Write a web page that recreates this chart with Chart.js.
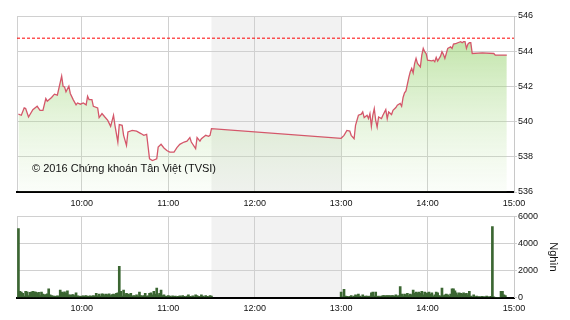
<!DOCTYPE html>
<html>
<head>
<meta charset="utf-8">
<script src="https://cdn.jsdelivr.net/npm/chart.js@4/dist/chart.umd.min.js"></script>
<style>
  body { margin: 0; background: #fff; }
  canvas { position: absolute; left: 0; }
  #priceChart { top: 0; }
  #volChart { top: 210px; }
</style>
</head>
<body>
<canvas id="priceChart" width="570" height="212"></canvas>
<canvas id="volChart" width="570" height="110"></canvas>
<script>
var priceTimes = [
  '9:16','9:18','9:20','9:21','9:23','9:26','9:29','9:31','9:33','9:35','9:36','9:39','9:41','9:43',
  '9:46','9:47','9:48','9:49','9:51','9:52','9:54','9:56','9:57','9:59','10:01','10:03','10:04','10:05',
  '10:07','10:08','10:11','10:12','10:14','10:16','10:18','10:20','10:22','10:23','10:25','10:26','10:28',
  '10:29','10:31','10:32','10:35','10:38','10:41','10:43','10:45','10:47','10:49','10:52','10:53','10:55',
  '10:57','10:59','11:01','11:04','11:06','11:08','11:11','11:13','11:15','11:16','11:19','11:20','11:22',
  '11:23','11:26','11:28','11:29','11:30',
  '13:00','13:02','13:04','13:06','13:07','13:09','13:10','13:12','13:14','13:15','13:16','13:18','13:19',
  '13:20','13:21','13:22','13:23','13:24','13:25','13:26','13:28','13:29','13:31','13:32','13:33','13:35',
  '13:36','13:38','13:39','13:41','13:42','13:43','13:44','13:45','13:47','13:48','13:49','13:50','13:51',
  '13:52','13:53','13:55','13:56','13:57','13:58','13:59','14:00','14:03','14:04','14:05','14:06','14:07',
  '14:09','14:10','14:11','14:12','14:13','14:14','14:16','14:17','14:18','14:20','14:21','14:23','14:24',
  '14:25','14:26','14:27','14:28','14:29','14:30','14:31','14:38','14:46','14:47','14:55'
];
var priceValues = [
  540.42,540.36,540.78,540.74,540.26,540.68,540.87,540.64,540.64,541.31,541.16,541.37,541.56,541.50,
  542.58,542.01,541.97,541.69,542.01,541.60,541.25,540.95,541.06,540.99,541.06,540.95,541.44,541.25,
  541.25,540.87,540.78,540.23,540.46,540.26,540.07,539.73,540.36,539.79,538.84,539.83,539.79,
  539.22,538.65,539.41,539.50,539.46,539.32,539.22,539.28,537.89,537.79,537.89,538.55,538.71,
  538.50,538.36,538.27,538.27,538.52,538.71,538.84,538.89,539.09,538.84,538.46,539.09,538.89,
  539.03,539.22,539.16,539.22,539.60,
  539.05,539.22,539.50,539.46,539.22,539.03,539.79,540.36,540.42,540.55,540.23,540.36,540.17,
  540.46,539.73,540.36,540.74,540.07,539.69,540.26,540.17,540.36,540.68,540.17,540.55,540.40,
  540.64,540.80,540.93,541.03,540.87,541.37,541.63,541.74,542.51,542.83,543.02,542.77,543.30,
  543.59,543.30,543.11,543.78,544.16,543.97,543.87,543.49,543.45,543.49,543.40,543.65,543.44,
  543.72,543.97,543.82,543.59,543.87,544.16,544.25,544.16,544.40,544.44,544.48,544.54,544.48,
  544.54,544.54,544.16,544.40,544.48,544.48,543.87,543.91,543.87,543.78,543.78
];
var refPrice = 544.74;

// khối lượng theo phút (nghìn)
var volMorningStart = '9:15';
var volMorning = [
  0,5100,450,400,300,100,450,420,150,380,400,450,420,400,300,380,150,400,250,200,220,
  280,650,200,150,100,100,80,120,100,550,400,350,420,300,500,200,180,200,220,150,
  350,120,100,80,100,120,100,150,80,100,120,80,150,100,300,120,250,100,280,250,
  150,250,200,280,150,220,250,200,300,350,2300,450,100,550,200,300,250,220,300,100,150,
  100,200,80,400,150,100,150,300,100,120,300,350,200,450,250,700,200,300,550,150,
  200,100,80,150,100,50,120,80,100,50,80,120,60,150,80,50,100,200,80,60,
  120,50,200,150,80,60,200,100,50,150,80,60,150,100
];
var volAfternoonStart = '13:00';
var volAfternoon = [
  400,50,600,100,80,50,80,150,50,100,200,150,250,100,50,200,80,100,100,80,
  100,350,400,100,400,80,100,50,100,150,150,120,150,150,120,150,150,100,200,100,
  150,800,250,100,250,200,300,150,250,200,550,300,400,350,400,300,450,200,400,300,
  350,400,250,350,100,200,400,350,150,100,700,150,200,250,200,100,250,650,650,500,
  350,200,350,300,250,350,250,300,200,450,100,50,200,50,100,50,60,50,80,50,
  50,100,50,50,80,5250,50,0,0,0,0,450,450,200,150
];

var timeTicks = [555, 600, 660, 720, 780, 840, 900];
var breakStart = '11:30', breakEnd = '13:00';

function toMin(t) {
  var p = t.split(':');
  return +p[0] * 60 + +p[1];
}
function fmt(v) {
  if (v % 60 !== 0 || v < 600) return '';
  return (v / 60) + ':00';
}

var font = { family: "'Liberation Sans', Arial, sans-serif", size: 9 };

var breakBand = {
  id: 'breakBand',
  beforeDraw: function(chart) {
    var a = chart.chartArea, x = chart.scales.x, c = chart.ctx;
    var x1 = x.getPixelForValue(toMin(breakStart));
    var x2 = x.getPixelForValue(toMin(breakEnd));
    c.save();
    c.fillStyle = '#f2f2f2';
    c.fillRect(x1, a.top, x2 - x1, a.bottom - a.top);
    c.restore();
  }
};

var watermark = {
  id: 'watermark',
  afterDatasetsDraw: function(chart) {
    var c = chart.ctx, a = chart.chartArea;
    c.save();
    c.fillStyle = '#111';
    c.font = "11px 'Liberation Sans', Arial, sans-serif";
    c.textBaseline = 'middle';
    c.fillText('\u00a9 2016 Ch\u1ee9ng kho\u00e1n T\u00e2n Vi\u1ec7t (TVSI)', a.left + 15, 169);
    c.restore();
  }
};

function xScale(h) {
  return {
    type: 'linear',
    min: 555, max: 900,
    offset: false,
    afterBuildTicks: function(s) { s.ticks = timeTicks.map(function(v) { return { value: v }; }); },
    afterFit: function(s) { s.height = h; },
    grid: { color: '#d0d0d0', drawTicks: false, offset: false },
    border: { color: '#000', width: 2 },
    ticks: { font: font, color: '#111', padding: 6, maxRotation: 0, autoSkip: false, callback: fmt }
  };
}

function yScale(max, step) {
  return {
    position: 'right',
    min: max - 5 * step > 0 ? max - 5 * step : 0, max: max,
    afterFit: function(s) { s.width = 56; },
    grid: { color: '#d0d0d0', tickLength: 3 },
    border: { color: '#c8c8c8' },
    ticks: { stepSize: step, font: font, color: '#111', padding: 1,
             callback: function(v) { return String(v); } }
  };
}

var priceData = priceTimes.map(function(t, i) { return { x: toMin(t), y: priceValues[i] }; });

new Chart(document.getElementById('priceChart'), {
  type: 'line',
  data: {
    datasets: [{
      data: [{ x: 555, y: refPrice }, { x: 900, y: refPrice }],
      borderColor: '#ff0000',
      borderWidth: 1,
      borderDash: [3, 2],
      pointRadius: 0,
      fill: false
    }, {
      data: priceData,
      borderColor: '#d4576a',
      borderWidth: 1.3,
      pointRadius: 0,
      tension: 0,
      fill: 'start',
      backgroundColor: function(ctx) {
        var a = ctx.chart.chartArea;
        if (!a) return 'rgba(150,210,110,0.4)';
        var g = ctx.chart.ctx.createLinearGradient(0, a.top, 0, a.bottom);
        g.addColorStop(0, 'rgba(140,205,95,0.65)');
        g.addColorStop(1, 'rgba(200,232,180,0.08)');
        return g;
      }
    }]
  },
  options: {
    responsive: false,
    animation: false,
    layout: { padding: { left: 17, top: 16, right: 0, bottom: 0 } },
    plugins: { legend: { display: false }, tooltip: { enabled: false } },
    scales: {
      x: xScale(20),
      y: Object.assign(yScale(546, 2), { min: 536 })
    }
  },
  plugins: [breakBand, watermark]
});

var volData = volMorning.map(function(v, i) { return { x: toMin(volMorningStart) + i, y: v }; })
  .concat(volAfternoon.map(function(v, i) { return { x: toMin(volAfternoonStart) + i, y: v }; }));

var volY = yScale(6000, 2000);
volY.min = 0;
volY.title = { display: true, text: 'Nghìn', color: '#111', padding: { top: 10, bottom: 4 },
               font: { family: "'Liberation Sans', Arial, sans-serif", size: 11 } };

new Chart(document.getElementById('volChart'), {
  type: 'bar',
  data: {
    datasets: [{
      data: volData,
      backgroundColor: '#3b6632',
      barThickness: 2
    }]
  },
  options: {
    responsive: false,
    animation: false,
    layout: { padding: { left: 17, top: 4, right: 0, bottom: 0 } },
    plugins: { legend: { display: false }, tooltip: { enabled: false } },
    scales: {
      x: xScale(22.5),
      y: volY
    }
  },
  plugins: [breakBand]
});
</script>
</body>
</html>
